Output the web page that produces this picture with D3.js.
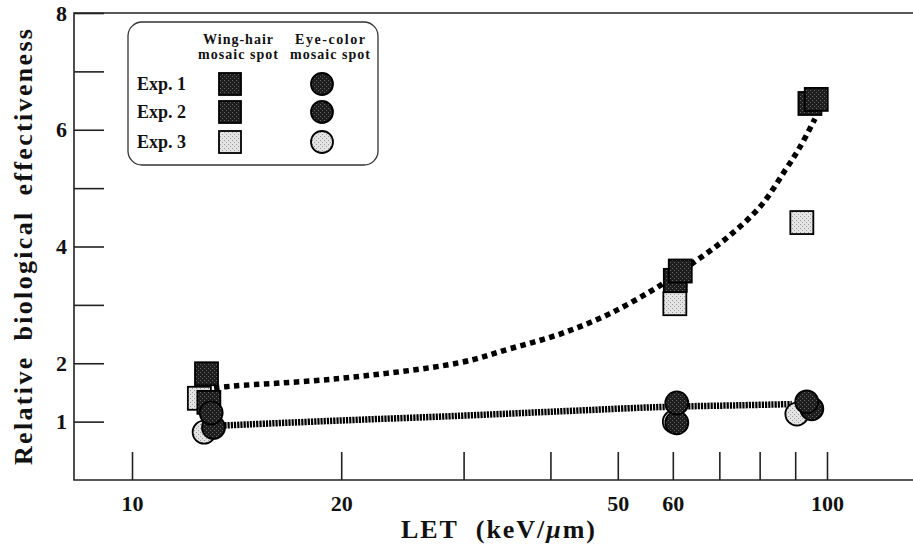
<!DOCTYPE html>
<html>
<head>
<meta charset="utf-8">
<script src="https://cdn.jsdelivr.net/npm/d3@7"></script>
<style>
  html, body { margin: 0; padding: 0; background: #fff; }
  svg { display: block; }
  text { font-family: "Liberation Serif", "DejaVu Serif", serif; font-weight: bold; fill: #111; }
</style>
</head>
<body>
<svg id="chart" width="913" height="548"></svg>
<script>
// values: [LET keV/um, RBE]
const wingExp1 = [[12.8, 1.82], [61.5, 3.58], [96.5, 6.52]];
const wingExp2 = [[12.9, 1.33], [60.5, 3.42], [94.5, 6.45]];
const wingExp3 = [[12.5, 1.40], [60.4, 3.02], [92.0, 4.41]];
const eyeExp1 = [[13.0, 1.15], [60.8, 1.32], [93.5, 1.34]];
const eyeExp2 = [[13.1, 0.90], [60.8, 0.98], [95.1, 1.22]];
const eyeExp3 = [[12.7, 0.82], [60.3, 1.00], [90.5, 1.13]];

// the two fitted curves
const wingFit = [[12.7, 1.56], [14, 1.61], [19.5, 1.73], [29.6, 2.01], [35, 2.25], [41.3, 2.5],
  [48.7, 2.85], [57.5, 3.33], [64.2, 3.72], [71.8, 4.15], [80.1, 4.68], [87.0, 5.30],
  [91.5, 5.71], [96.1, 6.19]];
const eyeFit = [[13.3, 0.93], [20, 1.02], [29.6, 1.10], [42, 1.18], [57.5, 1.25], [75, 1.28], [89, 1.30]];

const xTicks = [10, 20, 30, 40, 50, 60, 70, 80, 90, 100];
const xLabels = [10, 20, 50, 60, 100];
const yTicks = [1, 2, 3, 4, 5, 6, 7, 8];
const yLabels = [1, 2, 4, 6, 8];

const svg = d3.select('#chart');
const plotL = 74, plotR = 913, plotT = 13, plotB = 480;

const x = d3.scaleLog().domain([10, 100]).range([132, 827]);
const y = d3.scaleLinear().domain([0, 8]).range([plotB, plotT]);

// stipple fills
const defs = svg.append('defs');
function stipple(id, base, dot) {
  const p = defs.append('pattern').attr('id', id)
    .attr('width', 4).attr('height', 4).attr('patternUnits', 'userSpaceOnUse');
  p.append('rect').attr('width', 4).attr('height', 4).attr('fill', base);
  p.append('rect').attr('x', 0).attr('y', 0).attr('width', 1).attr('height', 1).attr('fill', dot);
  p.append('rect').attr('x', 2).attr('y', 2).attr('width', 1).attr('height', 1).attr('fill', dot);
}
stipple('dark', '#1e1e1e', '#666');
stipple('light', '#e4e4e4', '#999');

// frame: left, top, bottom
svg.append('path')
  .attr('d', `M${plotR},${plotT}H${plotL}V${plotB}H${plotR}`)
  .attr('fill', 'none').attr('stroke', '#222').attr('stroke-width', 1.6);

// x axis, ticks pointing inward
const xAxis = svg.append('g').attr('transform', `translate(0,${plotB})`)
  .call(d3.axisBottom(x).tickValues(xTicks).tickSizeInner(-28).tickSizeOuter(0).tickPadding(15)
    .tickFormat(d => xLabels.includes(d) ? d : ''));
xAxis.select('.domain').remove();
xAxis.selectAll('line').attr('stroke', '#222').attr('stroke-width', 1.6);
xAxis.selectAll('text').attr('font-size', 22);
xAxis.attr('font-family', null);

// y axis
const yAxis = svg.append('g').attr('transform', `translate(${plotL},0)`)
  .call(d3.axisLeft(y).tickValues(yTicks).tickSizeInner(-30).tickSizeOuter(0).tickPadding(7)
    .tickFormat(d => yLabels.includes(d) ? d : ''));
yAxis.select('.domain').remove();
yAxis.selectAll('line').attr('stroke', '#222').attr('stroke-width', 1.6);
yAxis.selectAll('text').attr('font-size', 22);
yAxis.attr('font-family', null);

// titles
svg.append('text')
  .attr('x', 498).attr('y', 538).attr('text-anchor', 'middle')
  .attr('font-size', 26).attr('textLength', 194).attr('lengthAdjust', 'spacing')
  .html('LET&#160;&#160;(keV/<tspan font-style="italic">μ</tspan>m)');

svg.append('text')
  .attr('transform', 'translate(32,247) rotate(-90)')
  .attr('text-anchor', 'middle')
  .attr('font-size', 26).attr('textLength', 436).attr('lengthAdjust', 'spacing')
  .attr('word-spacing', 6)
  .text('Relative biological effectiveness');

// fitted curves
const line = d3.line().x(d => x(d[0])).y(d => y(d[1])).curve(d3.curveCatmullRom);
svg.append('path').datum(wingFit).attr('d', line)
  .attr('fill', 'none').attr('stroke', '#000').attr('stroke-width', 5.5)
  .attr('stroke-dasharray', '5.5,4.5');
svg.append('path').datum(eyeFit).attr('d', line)
  .attr('fill', 'none').attr('stroke', '#000').attr('stroke-width', 6.5)
  .attr('stroke-dasharray', '2.2,1');

// markers
const sq = 23, r = 11.5;
function squares(data, fill) {
  svg.append('g').selectAll('rect').data(data).join('rect')
    .attr('x', d => x(d[0]) - sq / 2).attr('y', d => y(d[1]) - sq / 2)
    .attr('width', sq).attr('height', sq)
    .attr('fill', `url(#${fill})`).attr('stroke', '#000').attr('stroke-width', 1.8);
}
function circles(data, fill) {
  svg.append('g').selectAll('circle').data(data).join('circle')
    .attr('cx', d => x(d[0])).attr('cy', d => y(d[1])).attr('r', r)
    .attr('fill', `url(#${fill})`).attr('stroke', '#000').attr('stroke-width', 1.8);
}
squares(wingExp3, 'light');
squares(wingExp2, 'dark');
squares(wingExp1, 'dark');
circles(eyeExp3, 'light');
circles(eyeExp2, 'dark');
circles(eyeExp1, 'dark');

// legend
const lg = svg.append('g');
lg.append('rect').attr('x', 128).attr('y', 22).attr('width', 250).attr('height', 143)
  .attr('rx', 14).attr('fill', '#fff').attr('stroke', '#333').attr('stroke-width', 1.3);
[['Wing-hair', 238], ['Eye-color', 330]].forEach(([t, cx]) => {
  lg.append('text').attr('x', cx).attr('y', 43.5).attr('text-anchor', 'middle')
    .attr('font-size', 14).attr('textLength', 70).attr('lengthAdjust', 'spacing').text(t);
  lg.append('text').attr('x', cx).attr('y', 59).attr('text-anchor', 'middle')
    .attr('font-size', 14).attr('textLength', 80).attr('lengthAdjust', 'spacing').text('mosaic spot');
});
const rows = [['Exp. 1', 'dark', 84], ['Exp. 2', 'dark', 112], ['Exp. 3', 'light', 142]];
rows.forEach(([t, fill, cy]) => {
  lg.append('text').attr('x', 137).attr('y', cy + 6).attr('font-size', 18).text(t);
  lg.append('rect').attr('x', 230 - 11).attr('y', cy - 11).attr('width', 22).attr('height', 22)
    .attr('fill', `url(#${fill})`).attr('stroke', '#000').attr('stroke-width', 1.8);
  lg.append('circle').attr('cx', 322).attr('cy', cy).attr('r', 11)
    .attr('fill', `url(#${fill})`).attr('stroke', '#000').attr('stroke-width', 1.8);
});
</script>
</body>
</html>
